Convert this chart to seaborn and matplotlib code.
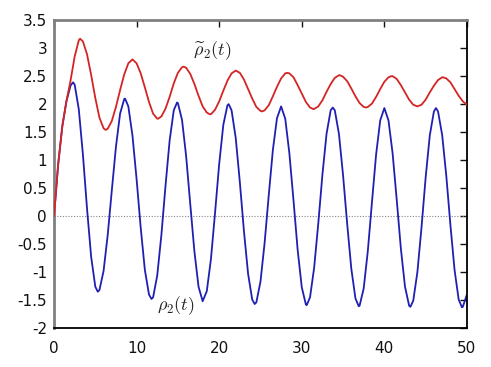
import numpy as np
import pandas as pd
import matplotlib
matplotlib.use("Agg")
import matplotlib.pyplot as plt
from matplotlib.ticker import FuncFormatter
import seaborn as sns

# rho_2(t), blue curve
t_blue = [0, 0.5, 1.0, 1.5, 2.0, 2.3, 2.5, 3.0, 3.5, 4.0, 4.5, 5.0, 5.3, 5.5, 6.0, 6.5, 7.0, 7.5,
          8.0, 8.5, 8.6, 9.0, 9.5, 10.0, 10.5, 11.0, 11.5, 11.8, 12.0, 12.5, 13.0, 13.5, 14.0,
          14.5, 14.9, 15.0, 15.5, 16.0, 16.5, 17.0, 17.5, 18.0, 18.5, 19.0, 19.5, 20.0, 20.5,
          21.0, 21.15, 21.5, 22.0, 22.5, 23.0, 23.5, 24.0, 24.3, 24.5, 25.0, 25.5, 26.0, 26.5,
          27.0, 27.5, 28.0, 28.5, 29.0, 29.5, 30.0, 30.5, 30.6, 31.0, 31.5, 32.0, 32.5, 33.0,
          33.5, 33.75, 34.0, 34.5, 35.0, 35.5, 36.0, 36.5, 36.9, 37.0, 37.5, 38.0, 38.5, 39.0,
          39.5, 40.0, 40.5, 41.0, 41.5, 42.0, 42.5, 43.0, 43.15, 43.5, 44.0, 44.5, 45.0, 45.5,
          46.0, 46.25, 46.5, 47.0, 47.5, 48.0, 48.5, 49.0, 49.4, 49.5, 50.0]
rho_blue = [0, 0.92, 1.60, 2.05, 2.33, 2.39, 2.35, 1.91, 1.10, 0.13, -0.73, -1.26, -1.35, -1.32,
            -0.98, -0.34, 0.46, 1.24, 1.83, 2.09, 2.10, 1.96, 1.44, 0.66, -0.21, -0.96, -1.40,
            -1.48, -1.45, -1.06, -0.34, 0.54, 1.35, 1.89, 2.03, 2.02, 1.72, 1.07, 0.21, -0.63,
            -1.26, -1.52, -1.34, -0.77, 0.06, 0.93, 1.63, 1.98, 2.00, 1.89, 1.40, 0.61, -0.27,
            -1.03, -1.49, -1.57, -1.54, -1.17, -0.48, 0.37, 1.18, 1.75, 1.96, 1.74, 1.12, 0.28,
            -0.60, -1.27, -1.58, -1.59, -1.45, -0.92, -0.13, 0.74, 1.47, 1.89, 1.94, 1.89, 1.47,
            0.73, -0.14, -0.94, -1.47, -1.61, -1.60, -1.29, -0.62, 0.25, 1.10, 1.71, 1.93, 1.71,
            1.12, 0.29, -0.58, -1.26, -1.60, -1.62, -1.51, -1.00, -0.20, 0.69, 1.44, 1.87, 1.93,
            1.87, 1.45, 0.72, -0.16, -0.96, -1.49, -1.63, -1.62, -1.40]

# tilde rho_2(t), red curve
t_red = [0, 0.5, 1.0, 1.5, 2.0, 2.5, 3.0, 3.15, 3.5, 4.0, 4.5, 5.0, 5.5, 6.0, 6.25, 6.5, 7.0,
         7.5, 8.0, 8.5, 9.0, 9.5, 10.0, 10.5, 11.0, 11.5, 12.0, 12.5, 12.6, 13.0, 13.5, 14.0,
         14.5, 15.0, 15.5, 15.7, 16.0, 16.5, 17.0, 17.5, 18.0, 18.5, 18.85, 19.0, 19.5, 20.0,
         20.5, 21.0, 21.5, 22.0, 22.5, 23.0, 23.5, 24.0, 24.5, 25.0, 25.2, 25.5, 26.0, 26.5,
         27.0, 27.5, 28.0, 28.25, 28.5, 29.0, 29.5, 30.0, 30.5, 31.0, 31.45, 32.0, 32.5, 33.0,
         33.5, 34.0, 34.55, 35.0, 35.5, 36.0, 36.5, 37.0, 37.5, 37.8, 38.0, 38.5, 39.0, 39.5,
         40.0, 40.5, 40.85, 41.0, 41.5, 42.0, 42.5, 43.0, 43.5, 44.0, 44.5, 45.0, 45.5, 46.0,
         46.5, 47.0, 47.1, 47.5, 48.0, 48.5, 49.0, 49.5, 50.0]
rho_red = [0, 0.92, 1.60, 2.05, 2.42, 2.85, 3.14, 3.17, 3.12, 2.89, 2.52, 2.11, 1.76, 1.57, 1.54,
           1.56, 1.70, 1.95, 2.25, 2.53, 2.73, 2.80, 2.73, 2.55, 2.30, 2.04, 1.83, 1.74, 1.74,
           1.78, 1.92, 2.13, 2.37, 2.56, 2.66, 2.67, 2.65, 2.54, 2.36, 2.15, 1.96, 1.85, 1.82,
           1.82, 1.90, 2.05, 2.24, 2.42, 2.55, 2.60, 2.56, 2.44, 2.27, 2.10, 1.95, 1.88, 1.87,
           1.89, 1.98, 2.14, 2.31, 2.46, 2.55, 2.56, 2.55, 2.48, 2.34, 2.19, 2.04, 1.94, 1.91,
           1.96, 2.07, 2.22, 2.36, 2.47, 2.52, 2.49, 2.41, 2.28, 2.14, 2.02, 1.95, 1.94, 1.95,
           2.01, 2.13, 2.27, 2.40, 2.48, 2.50, 2.50, 2.45, 2.34, 2.21, 2.08, 1.99, 1.96, 1.99,
           2.08, 2.21, 2.33, 2.43, 2.48, 2.48, 2.46, 2.39, 2.27, 2.15, 2.05, 1.99]

x_ticks = [0, 10, 20, 30, 40, 50]
y_ticks = [-2, -1.5, -1, -0.5, 0, 0.5, 1, 1.5, 2, 2.5, 3, 3.5]

df_blue = pd.DataFrame({"t": t_blue, "rho": rho_blue})
df_red = pd.DataFrame({"t": t_red, "rho": rho_red})

sns.set_style("white")
plt.rcParams["font.family"] = ["DejaVu Sans"]
plt.rcParams["axes.unicode_minus"] = False
plt.rcParams["mathtext.fontset"] = "cm"

fig = plt.figure(figsize=(4.91, 3.67), dpi=100)
ax = fig.add_axes([0.110, 0.106, 0.841, 0.839])

ax.axhline(0, color="#888888", linestyle=(0, (1, 1.5)), linewidth=0.8, zorder=1)
sns.lineplot(data=df_blue, x="t", y="rho", ax=ax, color="#1f1fb4", linewidth=1.3, sort=False, zorder=2)
sns.lineplot(data=df_red, x="t", y="rho", ax=ax, color="#d42424", linewidth=1.3, sort=False, zorder=3)

ax.text(19.2, 2.96, r"$\widetilde{\rho}_2(t)$", fontsize=13, ha="center", va="center", color="#222222")
ax.text(14.8, -1.6, r"$\rho_2(t)$", fontsize=13, ha="center", va="center", color="#222222")

ax.set_xlim(0, 50)
ax.set_ylim(-2, 3.5)
ax.set_xticks(x_ticks)
ax.set_yticks(y_ticks)
ax.yaxis.set_major_formatter(FuncFormatter(lambda v, p: "%g" % v))
ax.set_xlabel("")
ax.set_ylabel("")

ax.tick_params(axis="both", direction="in", length=5, width=1, labelsize=11, colors="#111111")
ax.tick_params(axis="y", right=True, pad=5)
ax.tick_params(axis="x", top=True, pad=9)

for side in ["left", "top"]:
    ax.spines[side].set_color("#808080")
    ax.spines[side].set_linewidth(2)
for side in ["right", "bottom"]:
    ax.spines[side].set_color("black")
    ax.spines[side].set_linewidth(1.3)

fig.savefig("out.png", dpi=100)
